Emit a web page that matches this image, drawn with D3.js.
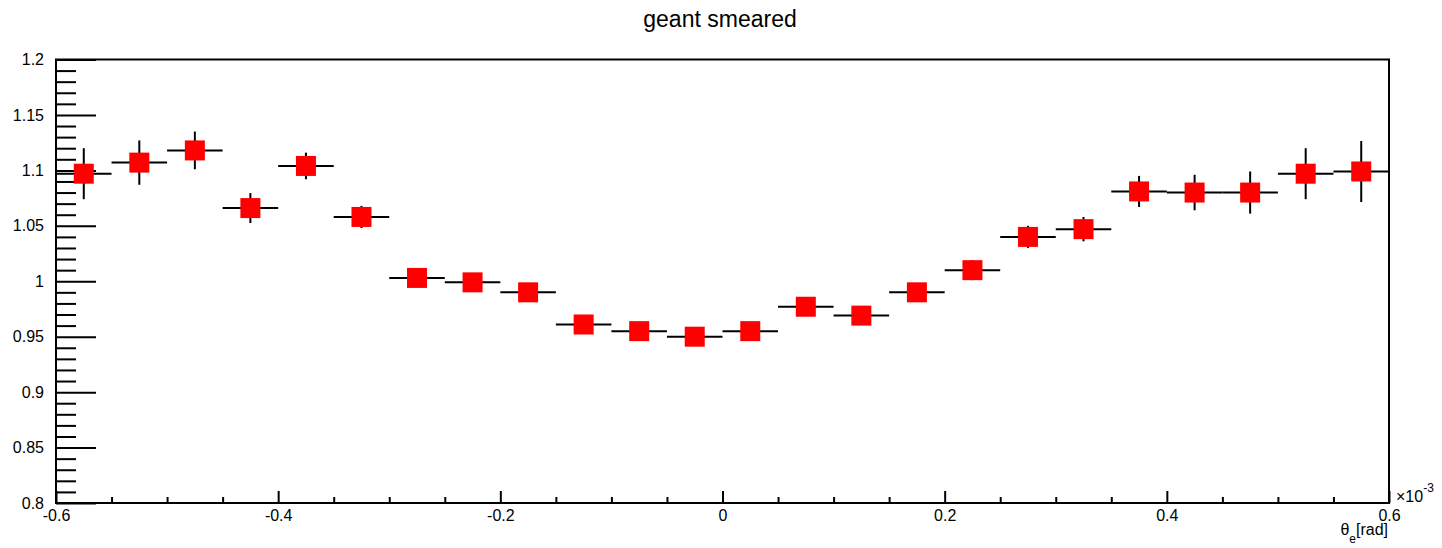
<!DOCTYPE html>
<html>
<head>
<meta charset="utf-8">
<script src="https://cdn.jsdelivr.net/npm/d3@7"></script>
<style>
  body { margin: 0; background: #fff; }
  text { font-family: "Liberation Sans", Arial, Helvetica, sans-serif; fill: #000; }
</style>
</head>
<body>
<div id="svg-area"></div>
<script>
// Data: 24 bins of width 0.05 (units of 1e-3 rad)
var binCenters = [-0.575, -0.525, -0.475, -0.425, -0.375, -0.325, -0.275, -0.225,
  -0.175, -0.125, -0.075, -0.025, 0.025, 0.075, 0.125, 0.175,
  0.225, 0.275, 0.325, 0.375, 0.425, 0.475, 0.525, 0.575];
var binHalfWidth = 0.025;
var ratioValues = [1.097, 1.107, 1.118, 1.066, 1.104, 1.058, 1.003, 0.999,
  0.990, 0.961, 0.955, 0.950, 0.955, 0.977, 0.969, 0.990,
  1.010, 1.040, 1.047, 1.081, 1.080, 1.080, 1.097, 1.099];
var ratioErrors = [0.023, 0.020, 0.017, 0.0135, 0.012, 0.010, 0.008, 0.008,
  0.008, 0.008, 0.008, 0.008, 0.008, 0.008, 0.008, 0.008,
  0.009, 0.010, 0.011, 0.014, 0.016, 0.019, 0.023, 0.0275];

var xMajorTicks = [-0.6, -0.4, -0.2, 0, 0.2, 0.4, 0.6];
var xTickLabels = ["-0.6", "-0.4", "-0.2", "0", "0.2", "0.4", "0.6"];
var yMajorTicks = [0.8, 0.85, 0.9, 0.95, 1, 1.05, 1.1, 1.15, 1.2];
var yTickLabels = ["0.8", "0.85", "0.9", "0.95", "1", "1.05", "1.1", "1.15", "1.2"];

var svgWidth = 1442;
var svgHeight = 548;
var margin = { top: 59.5, right: 53, bottom: 45, left: 56 };
var chartWidth = svgWidth - margin.left - margin.right;
var chartHeight = svgHeight - margin.top - margin.bottom;

var svg = d3.select("#svg-area")
  .append("svg")
  .attr("width", svgWidth)
  .attr("height", svgHeight);

// title
svg.append("text")
  .attr("x", 720)
  .attr("y", 27)
  .attr("text-anchor", "middle")
  .style("font-size", "23px")
  .text("geant smeared");

var chartGroup = svg.append("g")
  .attr("transform", `translate(${margin.left}, ${margin.top})`);

var xScale = d3.scaleLinear().domain([-0.6, 0.6]).range([0, chartWidth]);
var yScale = d3.scaleLinear().domain([0.8, 1.2]).range([chartHeight, 0]);

var xMinorTicks = d3.range(-0.6, 0.6001, 0.05).filter(function(v) {
  return Math.abs(Math.round(v * 5) - v * 5) > 1e-6;
});
var yMinorTicks = d3.range(0.8, 1.2001, 0.01).filter(function(v) {
  return Math.abs(Math.round(v * 20) - v * 20) > 1e-6;
});

// y axis: minor and major ticks pointing into the frame
chartGroup.append("g")
  .attr("class", "axis")
  .call(d3.axisLeft(yScale).tickValues(yMinorTicks).tickSize(-20).tickSizeOuter(0).tickFormat(""));
chartGroup.append("g")
  .attr("class", "axis")
  .call(d3.axisLeft(yScale).tickValues(yMajorTicks).tickSize(-40).tickSizeOuter(0).tickPadding(12)
    .tickFormat(function(d, i) { return yTickLabels[i]; }));

// x axis
var xAxisGroup = chartGroup.append("g")
  .attr("transform", `translate(0, ${chartHeight})`);
xAxisGroup.append("g")
  .attr("class", "axis")
  .call(d3.axisBottom(xScale).tickValues(xMinorTicks).tickSize(-6).tickSizeOuter(0).tickFormat(""));
xAxisGroup.append("g")
  .attr("class", "axis")
  .call(d3.axisBottom(xScale).tickValues(xMajorTicks).tickSize(-12).tickSizeOuter(0).tickPadding(7)
    .tickFormat(function(d, i) { return xTickLabels[i]; }));

chartGroup.selectAll(".axis .tick line").attr("stroke", "#000").attr("stroke-width", 2);
chartGroup.selectAll(".axis path.domain").remove();
chartGroup.selectAll(".axis text").style("font-size", "16px").attr("fill", "#000");

// frame
chartGroup.append("rect")
  .attr("x", 0).attr("y", 0)
  .attr("width", chartWidth).attr("height", chartHeight)
  .attr("fill", "none")
  .attr("stroke", "#000")
  .attr("stroke-width", 2);

// data points
var points = chartGroup.append("g");
binCenters.forEach(function(c, i) {
  var v = ratioValues[i];
  var e = ratioErrors[i];
  points.append("line")
    .attr("x1", xScale(c - binHalfWidth)).attr("x2", xScale(c + binHalfWidth))
    .attr("y1", yScale(v)).attr("y2", yScale(v))
    .attr("stroke", "#000").attr("stroke-width", 2);
  points.append("line")
    .attr("x1", xScale(c)).attr("x2", xScale(c))
    .attr("y1", yScale(v - e)).attr("y2", yScale(v + e))
    .attr("stroke", "#000").attr("stroke-width", 2);
});
points.selectAll("rect.marker")
  .data(binCenters)
  .enter()
  .append("rect")
  .attr("class", "marker")
  .attr("x", function(d) { return xScale(d) - 10; })
  .attr("y", function(d, i) { return yScale(ratioValues[i]) - 10; })
  .attr("width", 20)
  .attr("height", 20)
  .attr("fill", "#ff0000");

// exponent label and axis title
var expLabel = svg.append("text")
  .attr("x", 1396)
  .attr("y", 502)
  .style("font-size", "16px");
expLabel.append("tspan").text("\u00d710");
expLabel.append("tspan").attr("dy", -10).style("font-size", "12px").text("-3");

var xTitle = svg.append("text")
  .attr("x", 1388)
  .attr("y", 535)
  .attr("text-anchor", "end")
  .style("font-size", "16px");
xTitle.append("tspan").text("\u03b8");
xTitle.append("tspan").attr("dy", 8).style("font-size", "12px").text("e");
xTitle.append("tspan").attr("dy", -8).text("[rad]");
</script>
</body>
</html>
